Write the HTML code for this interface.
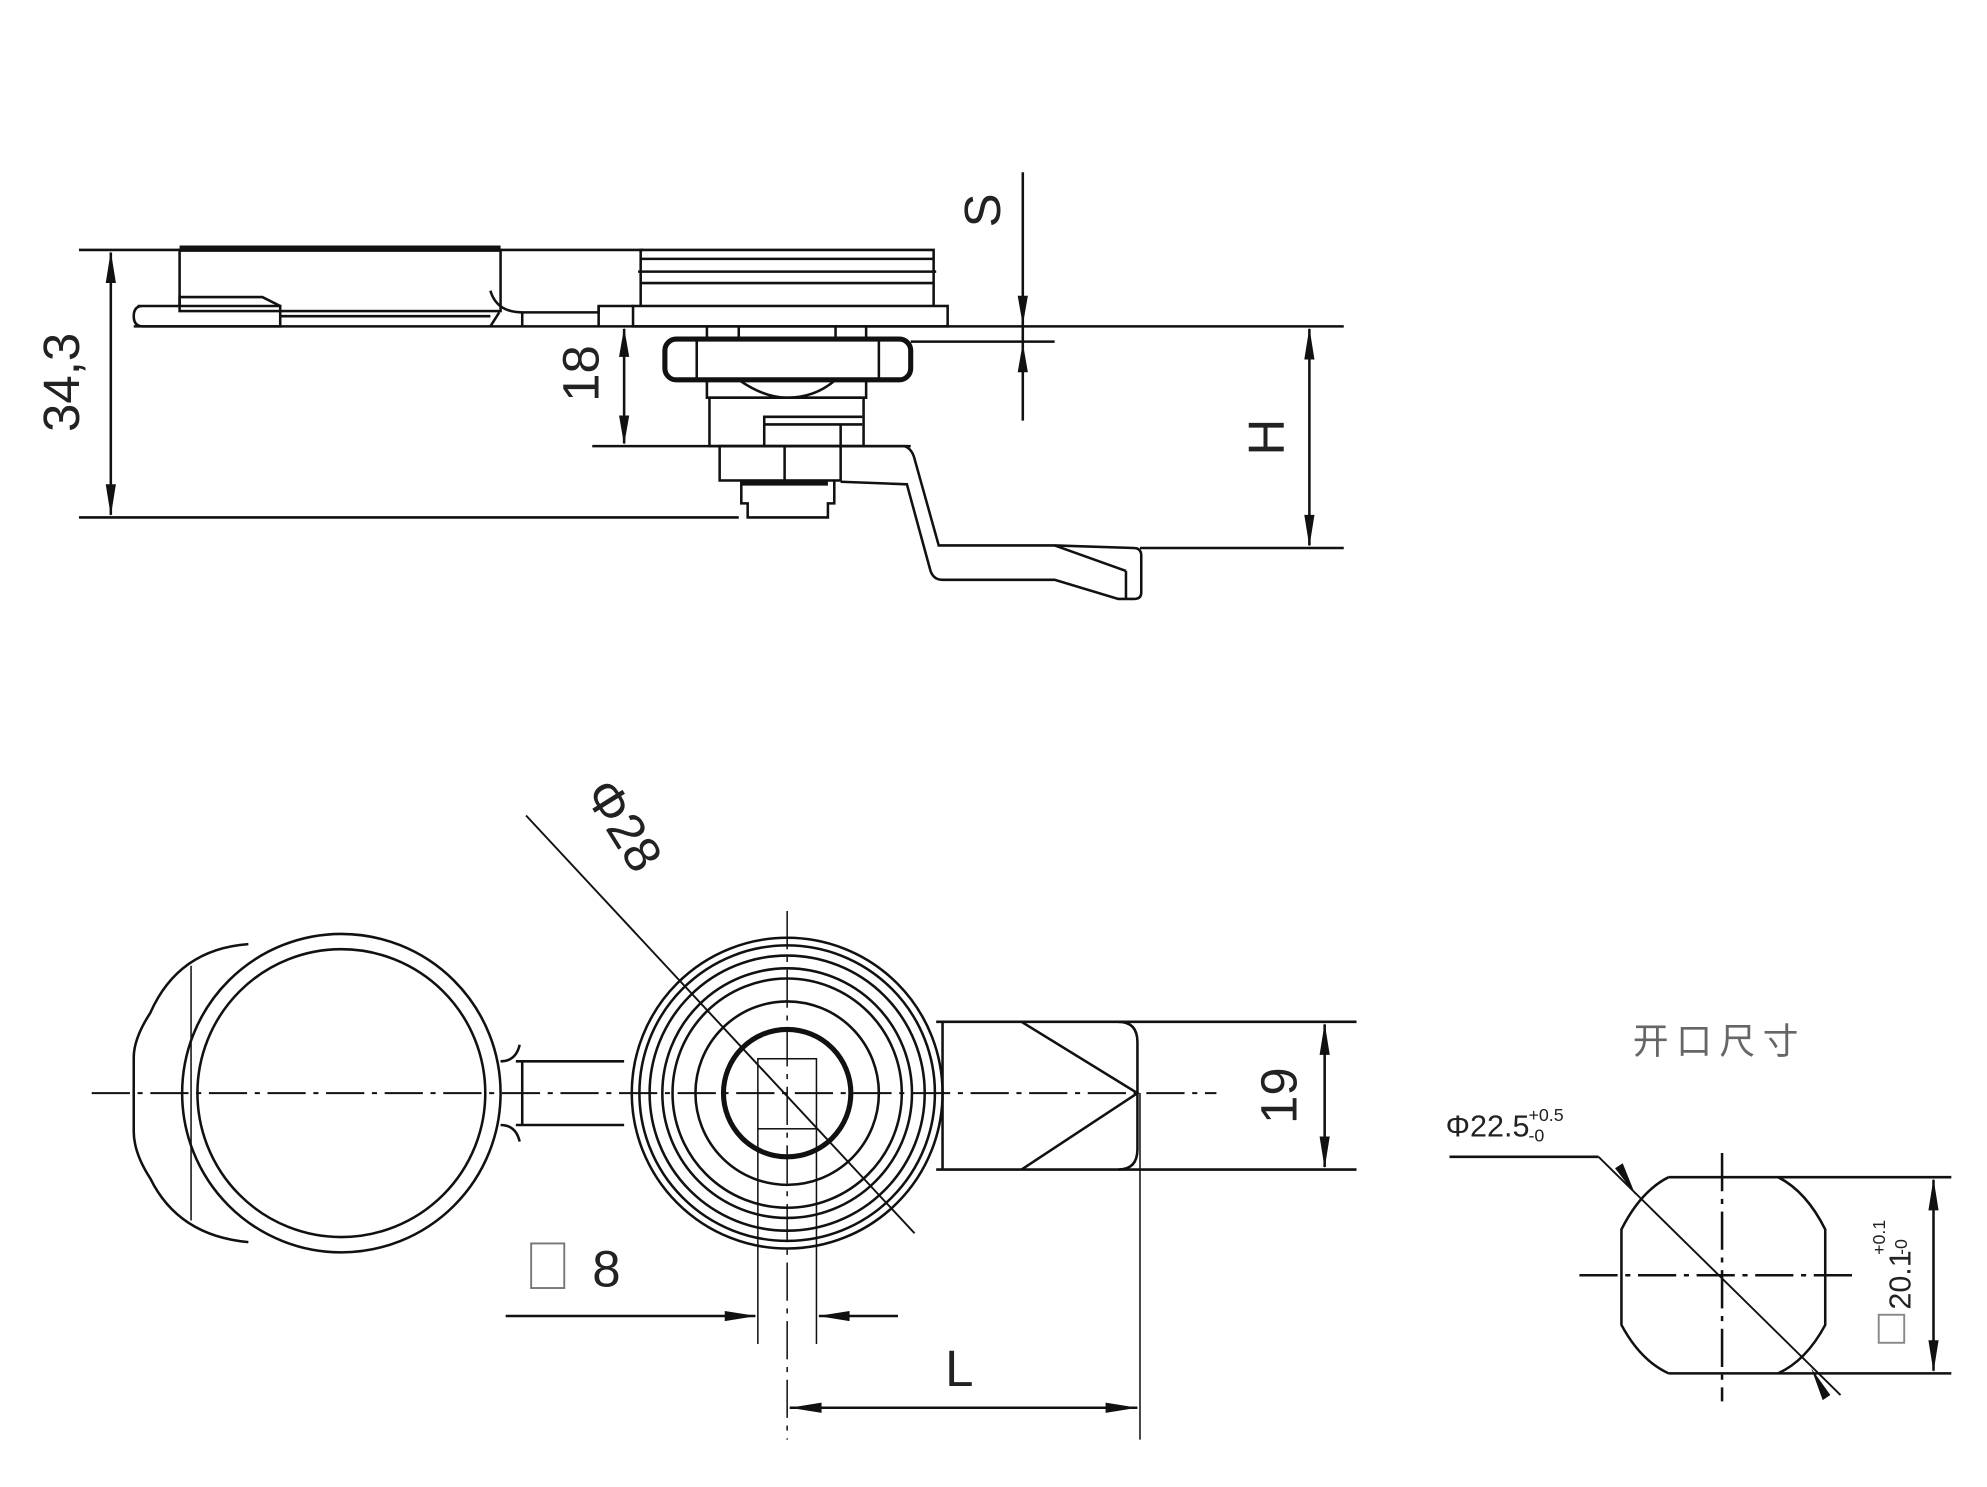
<!DOCTYPE html>
<html><head><meta charset="utf-8"><style>
html,body{margin:0;padding:0;background:#fff;}
svg{display:block;}
text{font-family:"Liberation Sans","Noto Sans CJK SC",sans-serif;fill:#222;}
</style></head><body>
<svg width="1987" height="1487" viewBox="0 0 1560 1167" xmlns="http://www.w3.org/2000/svg">
<g fill="none" stroke="#111" stroke-width="2">
<!-- TOP VIEW -->
<line x1="62" y1="196" x2="505" y2="196"/>
<line x1="62" y1="406" x2="580" y2="406"/>
<line x1="87" y1="198" x2="87" y2="404"/>
<line x1="105" y1="256" x2="1055" y2="256"/>
<rect x="141" y="196" width="252" height="48"/>
<line x1="141" y1="195" x2="393" y2="195" stroke-width="5"/>
<path d="M108,240 H220 L220,256 H112 Q105,256 105,248 Q105,240 112,240Z"/>
<path d="M141,240 L141,233 L206,233 L220,240"/>
<line x1="220" y1="248" x2="385" y2="248"/>
<path d="M385,228 Q390,245 410,245 L470,245 L470,240 L497,240"/>
<line x1="385" y1="256" x2="392" y2="245"/>
<line x1="410" y1="245" x2="410" y2="256"/>
<line x1="470" y1="240" x2="470" y2="256"/>
<rect x="497" y="240" width="247" height="16"/>
<path d="M503,240 L503,196 L733,196 L733,240"/>
<line x1="503" y1="203" x2="733" y2="203"/>
<line x1="501" y1="213" x2="735" y2="213"/>
<line x1="503" y1="222" x2="733" y2="222"/>
<rect x="522" y="266" width="193" height="32" rx="9" stroke-width="4"/>
<line x1="715" y1="268" x2="828" y2="268"/>
<line x1="555" y1="256" x2="555" y2="266"/><line x1="580" y1="256" x2="580" y2="266"/>
<line x1="656" y1="256" x2="656" y2="266"/><line x1="680" y1="256" x2="680" y2="266"/>
<line x1="547" y1="266" x2="547" y2="298"/><line x1="690" y1="266" x2="690" y2="298"/>
<path d="M555,298 V312 H680 V298 M580,298 Q600,312 618,312 Q640,312 656,298"/>
<rect x="557" y="312" width="121" height="38"/>
<path d="M600,350 V327 H677 M600,333 H677 M660,333 V350"/>
<line x1="465" y1="350" x2="715" y2="350"/>
<rect x="565" y="350" width="95" height="27"/>
<line x1="616" y1="350" x2="616" y2="377"/>
<path d="M582,377 V395 H587 V406 H650 V395 H655 V377"/>
<line x1="582" y1="379" x2="650" y2="379" stroke-width="4"/>
<path d="M660,350 L710,350 Q716,352 718,360 L737,428 L828,428 L890,430 Q896,430 896,436 L896,465 Q896,470 890,470 L878,470 L828,455 L740,455 Q732,455 730,446 L712,380 L660,378"/>
<line x1="884" y1="448" x2="884" y2="470"/>
<line x1="828" y1="428" x2="884" y2="448"/>
<line x1="895" y1="430" x2="1055" y2="430"/>
<line x1="490" y1="258" x2="490" y2="348"/>
<line x1="803" y1="135" x2="803" y2="330"/>
<line x1="1028" y1="258" x2="1028" y2="428"/>

<!-- BOTTOM VIEW -->
<line x1="72" y1="858" x2="955" y2="858" stroke-dasharray="30,6,4,6" stroke-width="1.5"/>
<circle cx="268" cy="858" r="125"/>
<circle cx="268" cy="858" r="113"/>
<path d="M195,741 Q140,745 118,795 Q105,815 105,830 L105,888 Q105,905 118,925 Q140,970 195,975"/>
<line x1="150" y1="758" x2="150" y2="958" stroke-width="1.2"/>
<path d="M393,833 Q405,833 408,820 M393,883 Q405,883 408,896"/>
<line x1="405" y1="833" x2="490" y2="833"/>
<line x1="405" y1="883" x2="490" y2="883"/>
<line x1="410" y1="833" x2="410" y2="883"/>
<circle cx="618" cy="858" r="122"/>
<circle cx="618" cy="858" r="116"/>
<circle cx="618" cy="858" r="108"/>
<circle cx="618" cy="858" r="98"/>
<circle cx="618" cy="858" r="90"/>
<circle cx="618" cy="858" r="72"/>
<circle cx="618" cy="858" r="50" stroke-width="4"/>
<rect x="595" y="831" width="46" height="55" stroke-width="1.2"/>
<line x1="618" y1="715" x2="618" y2="1130" stroke-dasharray="30,6,4,6" stroke-width="1.2"/>
<line x1="595" y1="886" x2="595" y2="1055" stroke-width="1.2"/>
<line x1="641" y1="886" x2="641" y2="1055" stroke-width="1.2"/>
<line x1="413" y1="640" x2="718" y2="968" stroke-width="1.5"/>
<path d="M740,802 V918"/>
<path d="M735,802 H878 Q893,802 893,818 V902 Q893,918 878,918 H735"/>
<line x1="878" y1="802" x2="1065" y2="802"/>
<line x1="878" y1="918" x2="1065" y2="918"/>
<path d="M802,802 L893,858 L802,918"/>
<line x1="1040" y1="804" x2="1040" y2="916"/>
<line x1="895" y1="858" x2="895" y2="1130" stroke-width="1.2"/>
<line x1="620" y1="1105" x2="893" y2="1105"/>
<line x1="397" y1="1033" x2="593" y2="1033"/>
<line x1="705" y1="1033" x2="643" y2="1033"/>
<rect x="417" y="976" width="26" height="35" stroke="#777" stroke-width="1.5"/>

<line x1="1138" y1="908" x2="1255" y2="908"/>
<line x1="1255" y1="908" x2="1445" y2="1095" stroke-width="1.5"/>
<path d="M1310,924 Q1288,935 1273,965 L1273,1040 Q1288,1068 1310,1078"/>
<path d="M1396,924 Q1418,935 1433,965 L1433,1040 Q1418,1068 1396,1078"/>
<line x1="1310" y1="924" x2="1532" y2="924"/>
<line x1="1310" y1="1078" x2="1532" y2="1078"/>
<line x1="1352" y1="905" x2="1352" y2="1100" stroke-dasharray="30,6,4,6"/>
<line x1="1240" y1="1001" x2="1458" y2="1001" stroke-dasharray="30,6,4,6"/>
<line x1="1518" y1="926" x2="1518" y2="1076"/>
<rect x="1475" y="1032" width="20" height="22" stroke="#888" stroke-width="1.5"/>
</g>
<!-- arrowheads -->
<g fill="#111" stroke="none">
<polygon points="87,197 83,222 91,222"/>
<polygon points="87,405 83,380 91,380"/>
<polygon points="490,257 486,280 494,280"/>
<polygon points="490,349 486,326 494,326"/>
<polygon points="803,255 799,232 807,232"/>
<polygon points="803,269 799,292 807,292"/>
<polygon points="1028,257 1024,282 1032,282"/>
<polygon points="1028,429 1024,404 1032,404"/>
<polygon points="1040,803 1036,828 1044,828"/>
<polygon points="1040,917 1036,892 1044,892"/>
<polygon points="620,1105 645,1101 645,1109"/>
<polygon points="893,1105 868,1101 868,1109"/>
<polygon points="594,1033 569,1029 569,1037"/>
<polygon points="642,1033 667,1029 667,1037"/>
<polygon points="1518,925 1514,950 1522,950"/>
<polygon points="1518,1077 1514,1052 1522,1052"/>
<polygon points="1284,938 1268,917 1274,913"/>
<polygon points="1422,1074 1437,1095 1431,1099"/>
</g>
<g font-size="40">
<text transform="translate(62,300) rotate(-90)" text-anchor="middle">34,3</text>
<text transform="translate(470,293) rotate(-90)" text-anchor="middle">18</text>
<text transform="translate(785,165) rotate(-90)" text-anchor="middle">S</text>
<text transform="translate(1008,343) rotate(-90)" text-anchor="middle">H</text>
<text transform="translate(1018,860) rotate(-90)" text-anchor="middle">19</text>
<text transform="translate(478,655) rotate(58)" text-anchor="middle">Φ28</text>
<text x="465" y="1010">8</text>
<text x="742" y="1088">L</text>
</g>
<text x="1350" y="827" font-size="28" text-anchor="middle" style="fill:#666;letter-spacing:6px">开口尺寸</text>
<text x="1135" y="892" font-size="24">Φ22.5</text>
<text x="1200" y="880" font-size="14">+0.5</text>
<text x="1200" y="896" font-size="14">-0</text>
<text transform="translate(1500,1028) rotate(-90)" font-size="24">20.1</text>
<text transform="translate(1480,985) rotate(-90)" font-size="14">+0.1</text>
<text transform="translate(1497,985) rotate(-90)" font-size="14">-0</text>
</svg>
</body></html>
